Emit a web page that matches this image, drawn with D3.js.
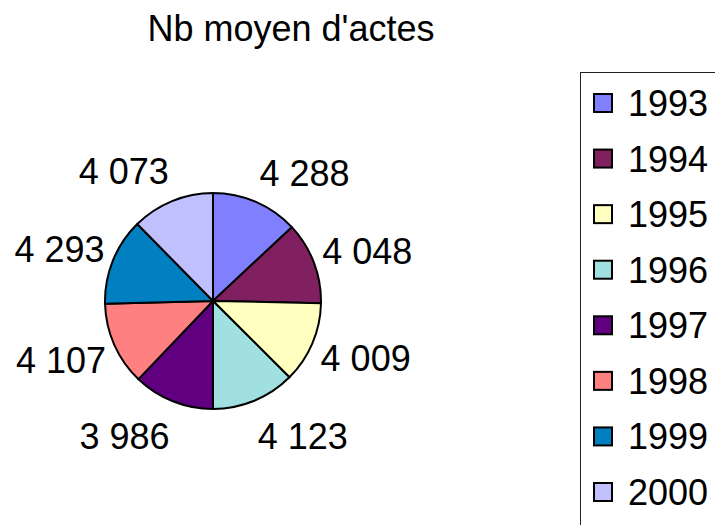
<!DOCTYPE html>
<html>
<head>
<meta charset="utf-8">
<script src="https://cdn.jsdelivr.net/npm/d3@7"></script>
<style>
  body { margin: 0; background: #fff; }
  text { font-family: "Liberation Sans", Arial, sans-serif; fill: #000; }
</style>
</head>
<body>
<script>
// data
var years = ["1993", "1994", "1995", "1996", "1997", "1998", "1999", "2000"];
var values = [4288, 4048, 4009, 4123, 3986, 4107, 4293, 4073];
var labels = ["4 288", "4 048", "4 009", "4 123", "3 986", "4 107", "4 293", "4 073"];
var colors = ["#8080ff", "#802060", "#ffffc0", "#a0e0e0", "#600080", "#ff8080", "#0080c0", "#c0c0ff"];
var title = "Nb moyen d'actes";

var width = 715, height = 525;
var cx = 213, cy = 301, radius = 108;

var svg = d3.select("body").append("svg")
    .attr("width", width)
    .attr("height", height);

// title
svg.append("text")
    .attr("x", 291)
    .attr("y", 41)
    .attr("text-anchor", "middle")
    .style("font-size", "36px")
    .text(title);

var color = d3.scaleOrdinal().domain(years).range(colors);

var pie = d3.pie()
    .sort(null)
    .value(function(d) { return d.value; });

var arc = d3.arc().innerRadius(0).outerRadius(radius);

var data = years.map(function(y, i) {
    return { year: y, value: values[i], label: labels[i] };
});

var g = svg.append("g")
    .attr("transform", "translate(" + cx + "," + cy + ")");

var arcs = pie(data);

g.selectAll("path")
    .data(arcs)
    .enter().append("path")
    .attr("d", arc)
    .attr("fill", function(d) { return color(d.data.year); })
    .attr("stroke", "#000")
    .attr("stroke-width", 2)
    .attr("stroke-linejoin", "round");

// labels outside the pie
var labelR = 117;
g.selectAll("text.lbl")
    .data(arcs)
    .enter().append("text")
    .attr("class", "lbl")
    .style("font-size", "36px")
    .attr("text-anchor", "middle")
    .attr("dy", "0.36em")
    .each(function(d) {
        var a = (d.startAngle + d.endAngle) / 2;
        var s = Math.sin(a), c = Math.cos(a);
        var hw = 45;
        var hh = c > 0 ? 23 : 29;
        var x = labelR * s + (s >= 0 ? hw : -hw);
        var y = -labelR * c - c * hh;
        d3.select(this).attr("x", x).attr("y", y);
    })
    .text(function(d) { return d.data.label; });

// legend
var legend = svg.append("g");
legend.append("rect")
    .attr("x", 580.5)
    .attr("y", 72.5)
    .attr("width", 200)
    .attr("height", 500)
    .attr("fill", "#fff")
    .attr("stroke", "#222")
    .attr("stroke-width", 1);

var ly = d3.scalePoint().domain(years).range([103, 492]);

var items = legend.selectAll("g.item")
    .data(years)
    .enter().append("g")
    .attr("class", "item")
    .attr("transform", function(d) { return "translate(0," + ly(d) + ")"; });

items.append("rect")
    .attr("x", 594)
    .attr("y", -9)
    .attr("width", 18)
    .attr("height", 18)
    .attr("fill", function(d) { return color(d); })
    .attr("stroke", "#000")
    .attr("stroke-width", 2);

items.append("text")
    .attr("x", 628)
    .attr("dy", "0.36em")
    .style("font-size", "36px")
    .text(function(d) { return d; });
</script>
</body>
</html>
